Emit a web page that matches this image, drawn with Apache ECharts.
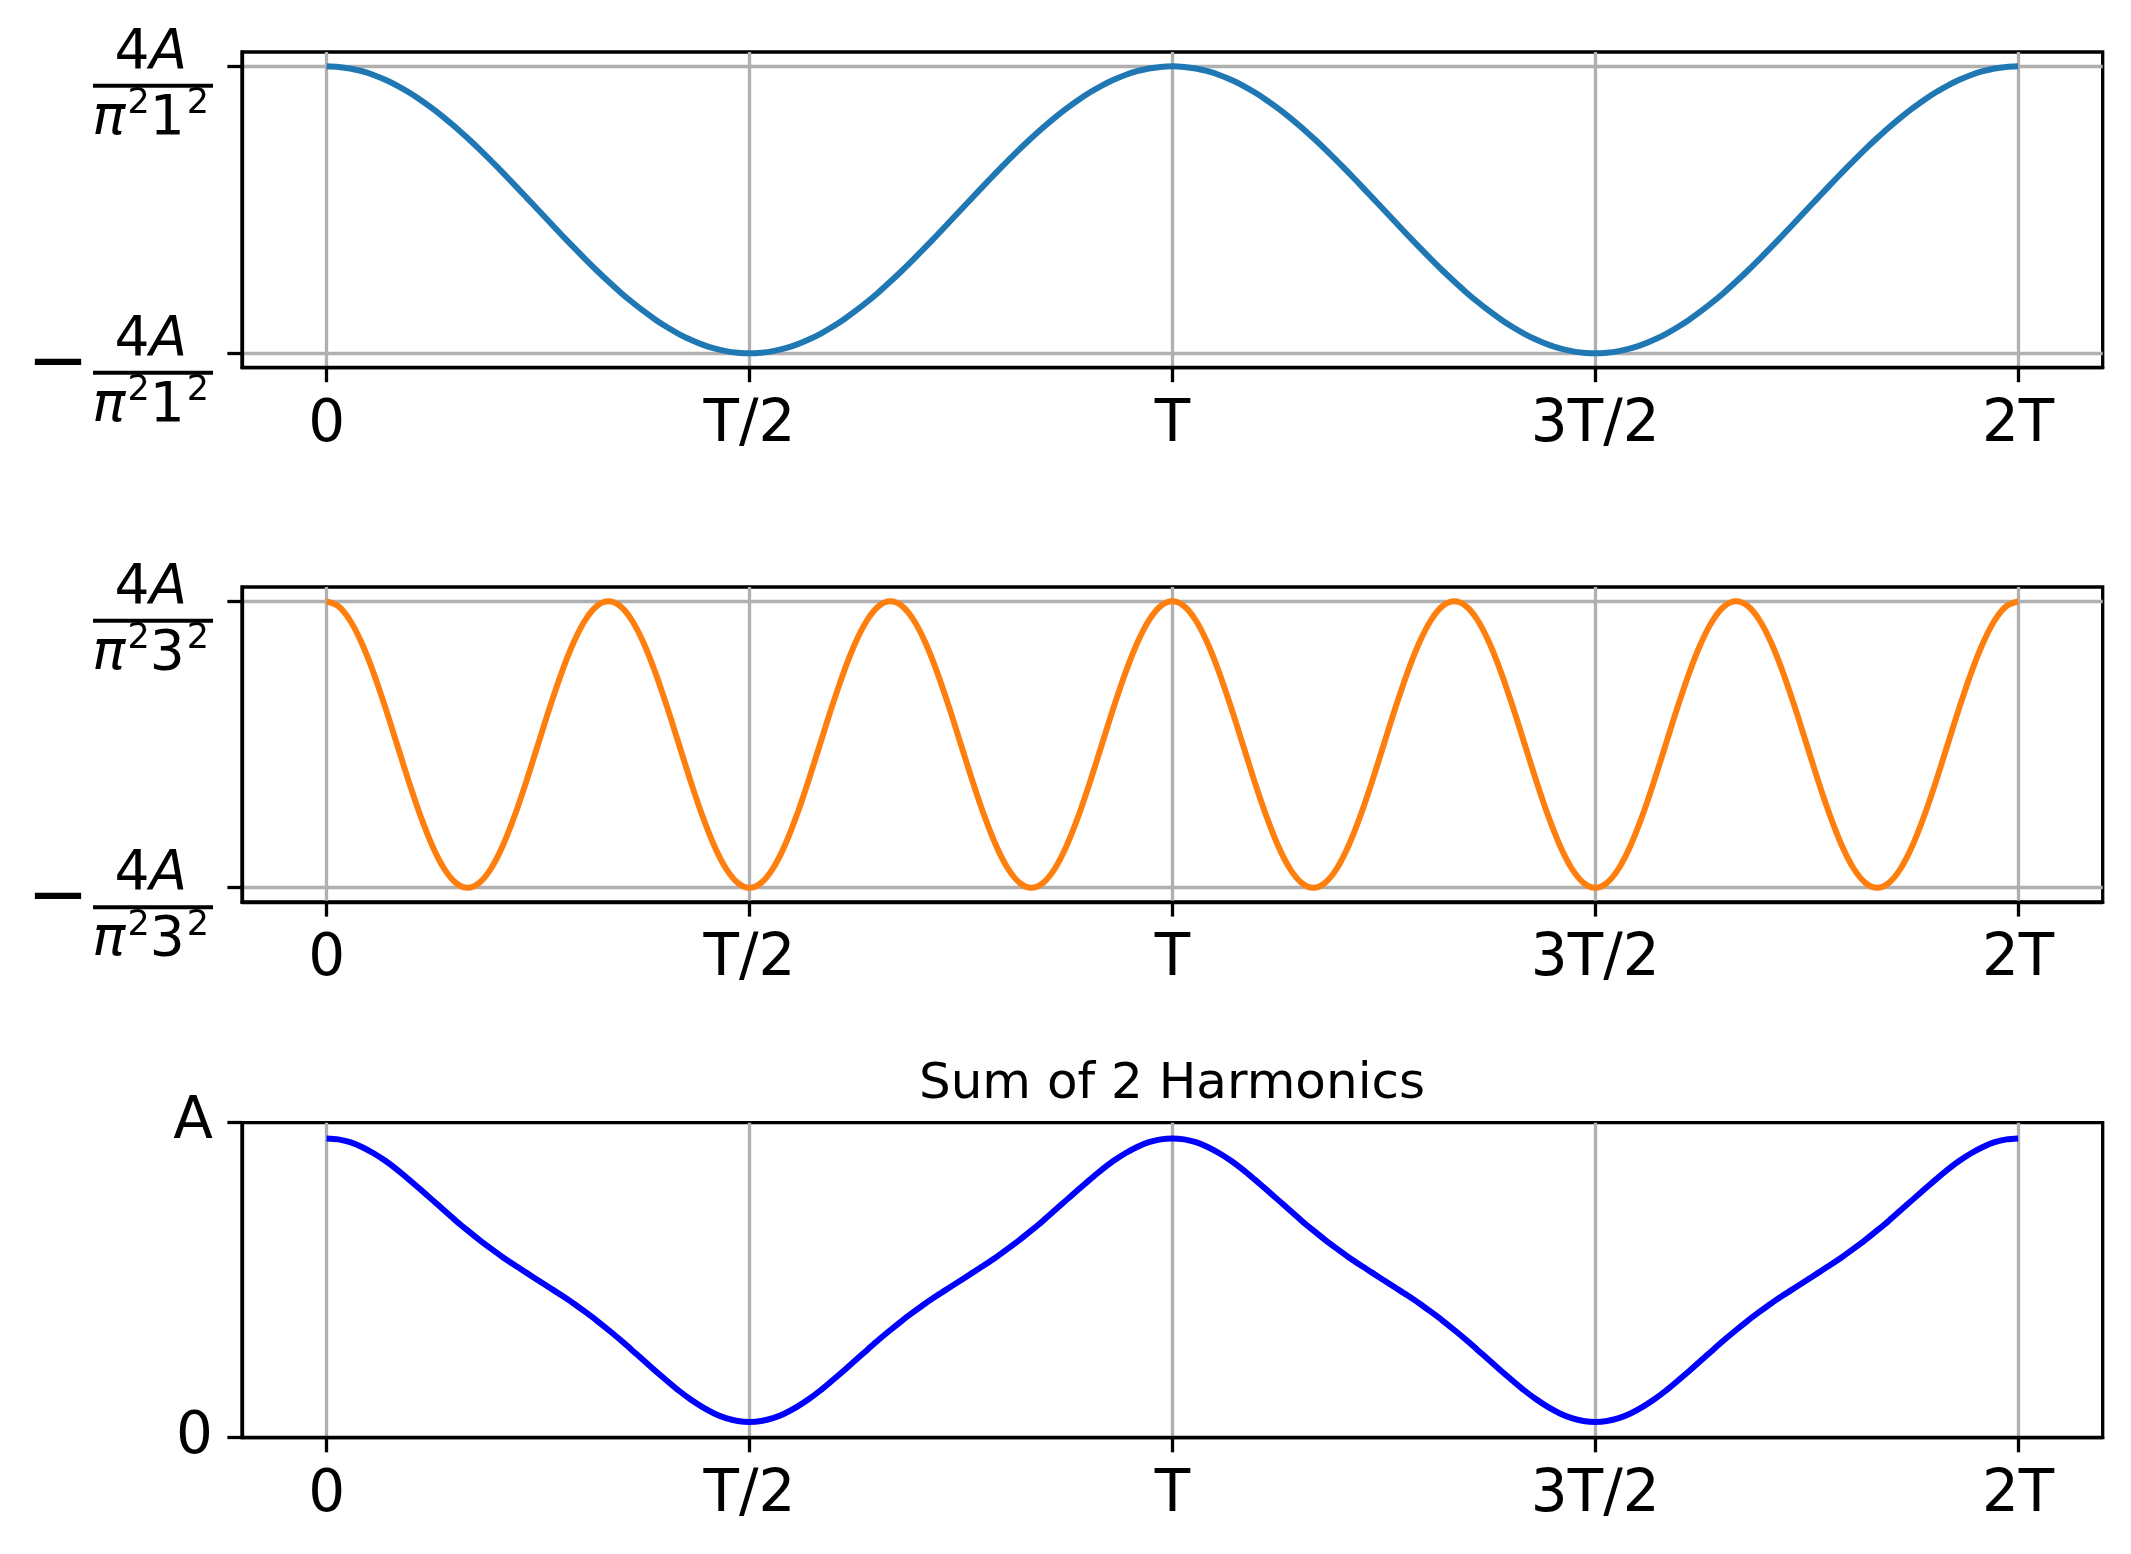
<!DOCTYPE html>
<html><head><meta charset="utf-8">
<script src="https://cdn.jsdelivr.net/npm/echarts@6/dist/echarts.min.js"></script>
<style>html,body{margin:0;padding:0;background:#fff}#c{width:2131px;height:1554px}</style>
</head><body><div id="c"></div>
<script>
// ---- data ----
const xTickValues = [0, 0.5, 1, 1.5, 2];
const xTickLabels = ['0', 'T/2', 'T', '3T/2', '2T'];
const harmonicOrders = [1, 3];
const harmonicTickValues = [-1, 1];
const sumTickValues = [0, 1];
const sumTickLabels = ['0', 'A'];
const sumTitle = 'Sum of 2 Harmonics';
const seriesColors = ['#1f77b4', '#ff7f0e', '#0000ff'];

// first harmonic (normalised), 0 .. 2T
const harmonic1 = [
  1, 0.996, 0.985, 0.966, 0.940, 0.906, 0.866, 0.819, 0.766, 0.707, 0.643, 0.574,
  0.5, 0.423, 0.342, 0.259, 0.174, 0.087, 0, -0.087, -0.174, -0.259, -0.342, -0.423,
  -0.5, -0.574, -0.643, -0.707, -0.766, -0.819, -0.866, -0.906, -0.940, -0.966, -0.985, -0.996,
  -1, -0.996, -0.985, -0.966, -0.940, -0.906, -0.866, -0.819, -0.766, -0.707, -0.643, -0.574,
  -0.5, -0.423, -0.342, -0.259, -0.174, -0.087, 0, 0.087, 0.174, 0.259, 0.342, 0.423,
  0.5, 0.574, 0.643, 0.707, 0.766, 0.819, 0.866, 0.906, 0.940, 0.966, 0.985, 0.996,
  1, 0.996, 0.985, 0.966, 0.940, 0.906, 0.866, 0.819, 0.766, 0.707, 0.643, 0.574,
  0.5, 0.423, 0.342, 0.259, 0.174, 0.087, 0, -0.087, -0.174, -0.259, -0.342, -0.423,
  -0.5, -0.574, -0.643, -0.707, -0.766, -0.819, -0.866, -0.906, -0.940, -0.966, -0.985, -0.996,
  -1, -0.996, -0.985, -0.966, -0.940, -0.906, -0.866, -0.819, -0.766, -0.707, -0.643, -0.574,
  -0.5, -0.423, -0.342, -0.259, -0.174, -0.087, 0, 0.087, 0.174, 0.259, 0.342, 0.423,
  0.5, 0.574, 0.643, 0.707, 0.766, 0.819, 0.866, 0.906, 0.940, 0.966, 0.985, 0.996,
  1
];
// third harmonic (normalised), 0 .. 2T
const harmonic3 = [
  1, 0.966, 0.866, 0.707, 0.5, 0.259, 0, -0.259, -0.5, -0.707, -0.866, -0.966,
  -1, -0.966, -0.866, -0.707, -0.5, -0.259, 0, 0.259, 0.5, 0.707, 0.866, 0.966,
  1, 0.966, 0.866, 0.707, 0.5, 0.259, 0, -0.259, -0.5, -0.707, -0.866, -0.966,
  -1, -0.966, -0.866, -0.707, -0.5, -0.259, 0, 0.259, 0.5, 0.707, 0.866, 0.966,
  1, 0.966, 0.866, 0.707, 0.5, 0.259, 0, -0.259, -0.5, -0.707, -0.866, -0.966,
  -1, -0.966, -0.866, -0.707, -0.5, -0.259, 0, 0.259, 0.5, 0.707, 0.866, 0.966,
  1, 0.966, 0.866, 0.707, 0.5, 0.259, 0, -0.259, -0.5, -0.707, -0.866, -0.966,
  -1, -0.966, -0.866, -0.707, -0.5, -0.259, 0, 0.259, 0.5, 0.707, 0.866, 0.966,
  1, 0.966, 0.866, 0.707, 0.5, 0.259, 0, -0.259, -0.5, -0.707, -0.866, -0.966,
  -1, -0.966, -0.866, -0.707, -0.5, -0.259, 0, 0.259, 0.5, 0.707, 0.866, 0.966,
  1, 0.966, 0.866, 0.707, 0.5, 0.259, 0, -0.259, -0.5, -0.707, -0.866, -0.966,
  -1, -0.966, -0.866, -0.707, -0.5, -0.259, 0, 0.259, 0.5, 0.707, 0.866, 0.966,
  1
];
// sum of 2 harmonics (in units of A), 0 .. 2T
const sumOf2 = [
  0.950, 0.947, 0.938, 0.923, 0.903, 0.879, 0.851, 0.820, 0.788, 0.755, 0.722, 0.689,
  0.658, 0.628, 0.600, 0.573, 0.548, 0.524, 0.500, 0.476, 0.452, 0.427, 0.400, 0.372,
  0.342, 0.311, 0.278, 0.245, 0.212, 0.180, 0.149, 0.121, 0.097, 0.077, 0.062, 0.053,
  0.050, 0.053, 0.062, 0.077, 0.097, 0.121, 0.149, 0.180, 0.212, 0.245, 0.278, 0.311,
  0.342, 0.372, 0.400, 0.427, 0.452, 0.476, 0.500, 0.524, 0.548, 0.573, 0.600, 0.628,
  0.658, 0.689, 0.722, 0.755, 0.788, 0.820, 0.851, 0.879, 0.903, 0.923, 0.938, 0.947,
  0.950, 0.947, 0.938, 0.923, 0.903, 0.879, 0.851, 0.820, 0.788, 0.755, 0.722, 0.689,
  0.658, 0.628, 0.600, 0.573, 0.548, 0.524, 0.500, 0.476, 0.452, 0.427, 0.400, 0.372,
  0.342, 0.311, 0.278, 0.245, 0.212, 0.180, 0.149, 0.121, 0.097, 0.077, 0.062, 0.053,
  0.050, 0.053, 0.062, 0.077, 0.097, 0.121, 0.149, 0.180, 0.212, 0.245, 0.278, 0.311,
  0.342, 0.372, 0.400, 0.427, 0.452, 0.476, 0.500, 0.524, 0.548, 0.573, 0.600, 0.628,
  0.658, 0.689, 0.722, 0.755, 0.788, 0.820, 0.851, 0.879, 0.903, 0.923, 0.938, 0.947,
  0.950
];

// ---- chart ----
const FONT = 'DejaVu Sans';
const SPINE = 3.3;
function toPairs(arr) { const n = arr.length - 1; return arr.map((v, i) => [2 * i / n, v]); }

const fracRich = {
  n: {fontFamily: FONT, fontSize: 55, color: '#000', lineHeight: 50},
  ni: {fontFamily: FONT, fontSize: 55, fontStyle: 'italic', color: '#000', lineHeight: 50},
  sp1: {fontSize: 10, width: 26, lineHeight: 50},
  bar: {fontSize: 1, width: 120, height: 4, lineHeight: 14, backgroundColor: '#000'},
  minus: {fontFamily: FONT, fontSize: 74, color: '#000', lineHeight: 14, padding: [0, 4, 14, 0]},
  d: {fontFamily: FONT, fontSize: 55, color: '#000', lineHeight: 54},
  di: {fontFamily: FONT, fontSize: 55, fontStyle: 'italic', color: '#000', lineHeight: 54},
  sup: {fontFamily: FONT, fontSize: 35, color: '#000', lineHeight: 30, height: 23, verticalAlign: 'top', padding: [0, 0, 0, 2]},
  sp2: {fontSize: 10, width: 4, lineHeight: 54}
};
function fracLabel(order, neg) {
  return '{n|4}{ni|A}{sp1| }\n' +
    (neg ? '{minus|\u2212}' : '') + '{bar| }\n' +
    '{di|\u03c0}{sup|2}{d|' + order + '}{sup|2}{sp2| }';
}

const gridTops = [52, 587, 1122.7];
const gridHeights = [315.6, 315, 315];
const grids = gridTops.map((t, i) => ({
  left: 242, top: t, width: 1860.7, height: gridHeights[i],
  show: true, borderColor: '#000', borderWidth: SPINE, backgroundColor: 'transparent',
  containLabel: false, outerBoundsMode: 'none'
}));

const xAxes = gridTops.map((t, i) => ({
  type: 'value', gridIndex: i, min: -0.1, max: 2.1,
  axisLine: {show: true, onZero: false, lineStyle: {color: '#000', width: SPINE}},
  axisTick: {show: true, length: 14.6, customValues: xTickValues, lineStyle: {color: '#000', width: SPINE}},
  axisLabel: {customValues: xTickValues, formatter: v => xTickLabels[xTickValues.indexOf(v)],
    fontFamily: FONT, fontSize: 58, color: '#000', margin: 29},
  splitLine: {show: true, lineStyle: {color: '#b0b0b0', width: SPINE}}
}));

const yAxes = [0, 1].map(i => ({
  type: 'value', gridIndex: i, min: -1.1, max: 1.1,
  axisLine: {show: true, onZero: false, lineStyle: {color: '#000', width: SPINE}},
  axisTick: {show: true, length: 14.6, customValues: harmonicTickValues, lineStyle: {color: '#000', width: SPINE}},
  axisLabel: {customValues: harmonicTickValues, formatter: v => fracLabel(harmonicOrders[i], v < 0),
    rich: fracRich, margin: 29, padding: [43, 0, 0, 0]},
  splitLine: {show: true, lineStyle: {color: '#b0b0b0', width: SPINE}}
}));
yAxes.push({
  type: 'value', gridIndex: 2, min: 0, max: 1,
  axisLine: {show: true, onZero: false, lineStyle: {color: '#000', width: SPINE}},
  axisTick: {show: true, length: 14.6, customValues: sumTickValues, lineStyle: {color: '#000', width: SPINE}},
  axisLabel: {customValues: sumTickValues, formatter: v => sumTickLabels[sumTickValues.indexOf(v)],
    fontFamily: FONT, fontSize: 58, color: '#000', margin: 29, padding: [10, 0, 0, 0]},
  splitLine: {show: false}
});

const seriesData = [harmonic1, harmonic3, sumOf2];
const series = seriesData.map((arr, i) => ({
  type: 'line', xAxisIndex: i, yAxisIndex: i, data: toPairs(arr),
  showSymbol: false, smooth: 0.3, silent: true,
  lineStyle: {color: seriesColors[i], width: 6}, z: 5
}));

const chart = echarts.init(document.getElementById('c'), null, {renderer: 'canvas'});
chart.setOption({
  animation: false,
  backgroundColor: '#fff',
  title: {text: sumTitle, left: 1172, top: 1060, textAlign: 'center', padding: 0,
    textStyle: {fontFamily: FONT, fontSize: 50, fontWeight: 'normal', color: '#000'}},
  grid: grids, xAxis: xAxes, yAxis: yAxes, series: series
});
</script></body></html>
